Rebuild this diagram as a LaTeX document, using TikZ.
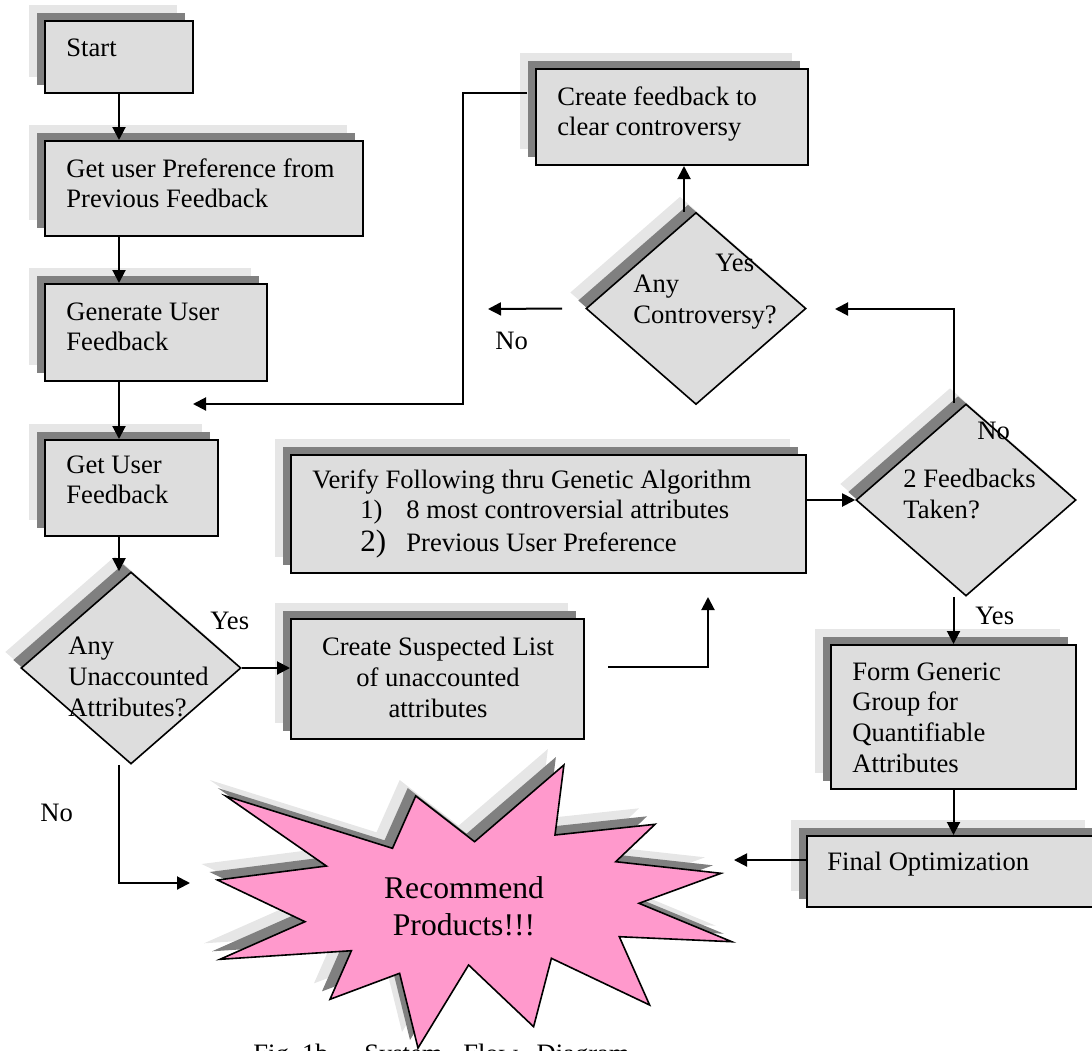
\documentclass[tikz,border=0pt]{standalone}
\usepackage{fontspec}
\setmainfont{Liberation Serif}
\usetikzlibrary{arrows.meta,shapes.geometric}

\definecolor{boxfill}{HTML}{DDDDDD}
\definecolor{shlight}{HTML}{E6E6E6}
\definecolor{shdark}{HTML}{808080}
\definecolor{starpink}{HTML}{FF99CC}

\begin{document}
\begin{tikzpicture}[x=0.5pt,y=-0.5pt,
  twoshadows/.style={preaction={draw=none,fill=shlight,transform canvas={shift={(-8pt,8pt)}}},
                     preaction={draw=none,fill=shdark,transform canvas={shift={(-4pt,4pt)}}}},
  flowbox/.style={rectangle,draw,line width=1pt,fill=boxfill,inner sep=0pt,twoshadows},
  flowdiam/.style={diamond,draw,line width=0.8pt,fill=boxfill,inner sep=0pt,
                   minimum width=110pt,minimum height=96pt,twoshadows},
  lbl/.style={inner sep=0pt,anchor=north west,align=left,font=\fontsize{13.3}{15.35}\selectfont},
  link/.style={line width=1pt,-{Triangle[length=6.5pt,width=6.5pt]}}
]
\useasboundingbox (0,0) rectangle (1092,1050);

% boxes
\node[flowbox,minimum width=74pt,minimum height=36pt] (start) at (119,57) {};
\node[flowbox,minimum width=159pt,minimum height=47.5pt] (pref) at (204,188.5) {};
\node[flowbox,minimum width=111pt,minimum height=48.5pt] (gen) at (156,332.5) {};
\node[flowbox,minimum width=86.5pt,minimum height=48pt] (getfb) at (131.5,488) {};
\node[flowbox,minimum width=146.5pt,minimum height=60pt] (susp) at (437.5,679) {};
\node[flowbox,minimum width=257.5pt,minimum height=59pt] (verify) at (548.5,514) {};
\node[flowbox,minimum width=136pt,minimum height=48pt] (fbk) at (672,117) {};
\node[flowbox,minimum width=122.5pt,minimum height=72pt] (form) at (953.5,717) {};
\node[flowbox,minimum width=147pt,minimum height=35.5pt] (final) at (954,871.5) {};

% decisions
\node[flowdiam] (q1) at (131,668) {};
\node[flowdiam] (ctrl) at (696,308.5) {};
\node[flowdiam] (q3) at (966,500) {};

% the star
\draw[line width=0.8pt,fill=starpink,twoshadows] (225.7,796) -- (392.5,848.3) -- (415.7,796)
  -- (474.6,841.7) -- (563.9,765) -- (555,835) -- (655,824.3) -- (615.7,861.7)
  -- (721,873.3) -- (639,903.3) -- (731.8,941.7) -- (619.3,936.7) -- (649.6,1005)
  -- (551.4,958.3) -- (533.6,1026.7) -- (468.6,965) -- (418,1048) -- (399.6,973.3)
  -- (330,999.3) -- (351.4,950.7) -- (220,959.3) -- (305,921.7) -- (217.5,880)
  -- (326.4,866) -- cycle;

% texts
\node[lbl] (tstart) at (66,38) {Start};
\node[lbl] (tpref) at (66,158) {Get user Preference from\\Previous Feedback};
\node[lbl] (tgen) at (66,302) {Generate User\\Feedback};
\node[lbl] (tgetfb) at (66,455) {Get User\\Feedback};
\node[lbl] (tq1) at (68,637) {Any\\Unaccounted\\Attributes?};
\node[lbl,anchor=north,align=center] (tsusp) at (438,637) {Create Suspected List\\of unaccounted\\attributes};
\node[lbl] (tverify) at (312,469) {Verify Following thru Genetic Algorithm\\
  \hspace*{24pt}\makebox[23pt][l]{1)}8 most controversial attributes\\[1pt]
  \hspace*{24pt}\makebox[23pt][l]{\fontsize{15.5}{15.35}\selectfont 2)}Previous User Preference};
\node[lbl] (tfbk) at (557,86) {Create feedback to\\clear controversy};
\node[lbl] (tctrl) at (633,275) {Any\\Controversy?};
\node[lbl] (tq3) at (903,469) {2 Feedbacks\\Taken?};
\node[lbl] (tform) at (852,662) {Form Generic\\Group for\\Quantifiable\\Attributes};
\node[lbl] (tfinal) at (827,852) {Final Optimization};
\node[lbl,anchor=north,align=center,font=\fontsize{15.8}{18.8}\selectfont] (treco) at (464,876) {Recommend\\Products!!!};

% answers
\node[lbl] (yes1) at (210,612) {Yes};
\node[lbl] (no1) at (40,804) {No};
\node[lbl] (yes2) at (715,254) {Yes};
\node[lbl] (no2) at (495,332) {No};
\node[lbl] (no3) at (977,422) {No};
\node[lbl] (yes3) at (975,607) {Yes};
\node[lbl] (caption) at (253,1044) {Fig.~1b.\hspace{10pt} System\hspace{7pt} Flow\hspace{6pt} Diagram};

% free ends
\coordinate (loopturn) at (463,404);
\coordinate (loopend) at (193,404);
\coordinate (noend) at (488,309);
\coordinate (ctrlin) at (835,309);
\coordinate (starleft) at (190,883);
\coordinate (starright) at (734,860);
\coordinate (suspout) at (608,667);
\coordinate (verin) at (708,597);

% connectors
\draw[link] (start.south) -- (start.south |- pref.north);
\draw[link] (pref.south -| start.south) -- (gen.north -| start.south);
\draw[link] (gen.south -| start.south) -- (getfb.north -| start.south);
\draw[link] (getfb.south -| start.south) -- (q1.north -| start.south);
\draw[link] (q1.east) -- (q1.east -| susp.west);
\draw[link] (q1.south -| start.south) |- (starleft);
\draw[link] (suspout) -| (verin);
\draw[link] (verify.east |- q3.west) -- (q3.west);
\draw[link] ([xshift=-6pt]q3.north) |- (ctrlin);
\draw[link] ([xshift=-6pt]ctrl.north) -- ([xshift=-6pt]ctrl.north |- fbk.south);
\draw[link] ([xshift=-11.5pt]ctrl.west) -- (noend);
\draw[link] ([xshift=-4pt,yshift=12pt]fbk.west) -| (loopturn) -- (loopend);
\draw[link] (form.north |- q3.south) -- (form.north);
\draw[link] (form.south) -- (form.south |- final.north);
\draw[link] (final.west |- starright) -- (starright);

\end{tikzpicture}
\end{document}
